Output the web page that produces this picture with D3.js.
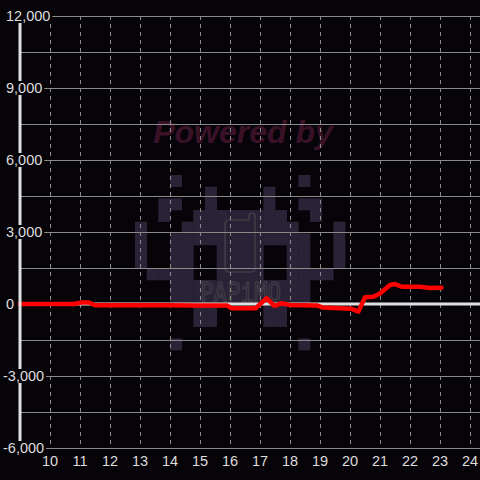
<!DOCTYPE html>
<html>
<head>
<meta charset="utf-8">
<script src="https://cdn.jsdelivr.net/npm/d3@7"></script>
<style>
  html, body { margin: 0; padding: 0; background: #060408; }
  svg { display: block; }
  .tick-label { font-family: "Liberation Sans", Arial, sans-serif; font-size: 14.5px; fill: #dddddd; }
</style>
</head>
<body>
<div id="chart"></div>
<script>
// series
const hours = [9, 10, 10.8, 11.05, 11.3, 11.5, 12, 13, 14, 14.9, 15.9, 16.05, 16.85, 17.22, 17.48, 17.72, 18, 18.9, 19.1, 20.05, 20.28, 20.5, 20.78, 21, 21.33, 21.5, 21.72, 22.33, 22.67, 23.05];
const values = [0, 0, 0, 60, 60, -50, -50, -50, -50, -60, -60, -180, -180, 240, -80, 30, -40, -60, -150, -200, -320, 280, 300, 440, 790, 830, 720, 720, 670, 680];

// axes
const xTicks = [10, 11, 12, 13, 14, 15, 16, 17, 18, 19, 20, 21, 22, 23, 24];
const yLabelTicks = [12000, 9000, 6000, 3000, 0, -3000, -6000];
const yGridTicks = [12000, 10500, 9000, 7500, 6000, 4500, 3000, 1500, 0, -1500, -3000, -4500, -6000];

// watermark pixel art (18 x 15 cells)
const invaderRows = [
  "...#..........#...",
  "......#....#......",
  "..##..#....#..##..",
  "..#..########..#..",
  "#...##########...#",
  "#..############..#",
  "#..##..####..##..#",
  "#..##..####..##..#",
  ".####..####..####.",
  "...############...",
  "...############...",
  ".....##....##.....",
  ".....##....##.....",
  "..................",
  "...#..........#..."
];

const width = 480, height = 480;
const bg = "#060408";

const x = d3.scaleLinear().domain([9, 24 + 1 / 3]).range([20, 480]);
const y = d3.scaleLinear().domain([-6000, 12000]).range([448, 16]);

const svg = d3.select("#chart").append("svg")
  .attr("width", width)
  .attr("height", height);

svg.append("rect").attr("width", width).attr("height", height).attr("fill", bg);

// watermark
const wm = svg.append("g").attr("class", "watermark");
const cell = 11.67;
const ox = 135, oy = 175;
invaderRows.forEach((row, r) => {
  row.split("").forEach((c, i) => {
    if (c === "#") {
      wm.append("rect")
        .attr("x", ox + i * cell).attr("y", oy + r * cell)
        .attr("width", cell + 0.3).attr("height", cell + 0.3)
        .attr("fill", "#2a2337");
    }
  });
});
wm.append("path")
  .attr("d", "M229,220 H249 V216 Q249,213 252,213 Q255,213 255,216 V268 Q255,272 251,272 H229 Q225,272 225,268 V224 Q225,220 229,220 Z")
  .attr("fill", "none").attr("stroke", "#403c44").attr("stroke-width", 1.5);
wm.append("text")
  .attr("x", 200).attr("y", 301.5)
  .attr("textLength", 81).attr("lengthAdjust", "spacingAndGlyphs")
  .attr("font-family", "DejaVu Sans Mono, monospace")
  .attr("font-size", 27)
  .attr("fill", "none").attr("stroke", "#46434a").attr("stroke-width", 1)
  .text("PAPiMO");
wm.append("text")
  .attr("x", 243).attr("y", 143)
  .attr("text-anchor", "middle")
  .attr("font-family", "Liberation Sans, Arial, sans-serif")
  .attr("font-size", 32).attr("font-weight", "bold").attr("font-style", "italic")
  .attr("fill", "#3a1228")
  .text("Powered by");

// grid
svg.append("g").selectAll("line")
  .data(yGridTicks).enter().append("line")
  .attr("x1", x(9)).attr("x2", width)
  .attr("y1", d => y(d)).attr("y2", d => y(d))
  .attr("stroke", "#8a8a8a").attr("stroke-width", 1)
  .attr("shape-rendering", "crispEdges");

svg.append("g").selectAll("line")
  .data(xTicks).enter().append("line")
  .attr("x1", d => x(d)).attr("x2", d => x(d))
  .attr("y1", y(12000)).attr("y2", y(-6000))
  .attr("stroke", "#8a8a8a").attr("stroke-width", 1)
  .attr("stroke-dasharray", "4,4")
  .attr("shape-rendering", "crispEdges");

// zero line
svg.append("line")
  .attr("x1", x(9)).attr("x2", width)
  .attr("y1", y(0)).attr("y2", y(0))
  .attr("stroke", "#e0e0e0").attr("stroke-width", 3);

// series line
const data = hours.map((h, i) => ({ h, v: values[i] }));
const line = d3.line().x(d => x(d.h)).y(d => y(d.v));
svg.append("path").datum(data)
  .attr("d", line)
  .attr("fill", "none")
  .attr("stroke", "#ff0000")
  .attr("stroke-width", 4.5)
  .attr("stroke-linejoin", "round")
  .attr("stroke-linecap", "round");

// y axis line
svg.append("line")
  .attr("x1", x(9)).attr("x2", x(9))
  .attr("y1", y(12000)).attr("y2", y(-6000))
  .attr("stroke", "#e0e0e0").attr("stroke-width", 3);

// y labels with background
const fmt = d3.format(",");
const yl = svg.append("g").selectAll("g")
  .data(yLabelTicks).enter().append("g")
  .attr("transform", d => `translate(${d < 0 ? 3 : 6},${y(d)})`);
yl.append("text")
  .attr("class", "tick-label")
  .attr("dy", "0.35em")
  .text(d => fmt(d).replace("−", "-"));
yl.each(function () {
  const g = d3.select(this);
  const bb = g.select("text").node().getBBox();
  g.insert("rect", "text")
    .attr("x", bb.x - 2).attr("y", -7)
    .attr("width", bb.width + 4).attr("height", 14)
    .attr("fill", bg);
});

// x labels
svg.append("g").selectAll("text")
  .data(xTicks).enter().append("text")
  .attr("class", "tick-label")
  .attr("x", d => x(d))
  .attr("y", 461)
  .attr("dy", "0.35em")
  .attr("text-anchor", "middle")
  .text(d => d);
</script>
</body>
</html>
